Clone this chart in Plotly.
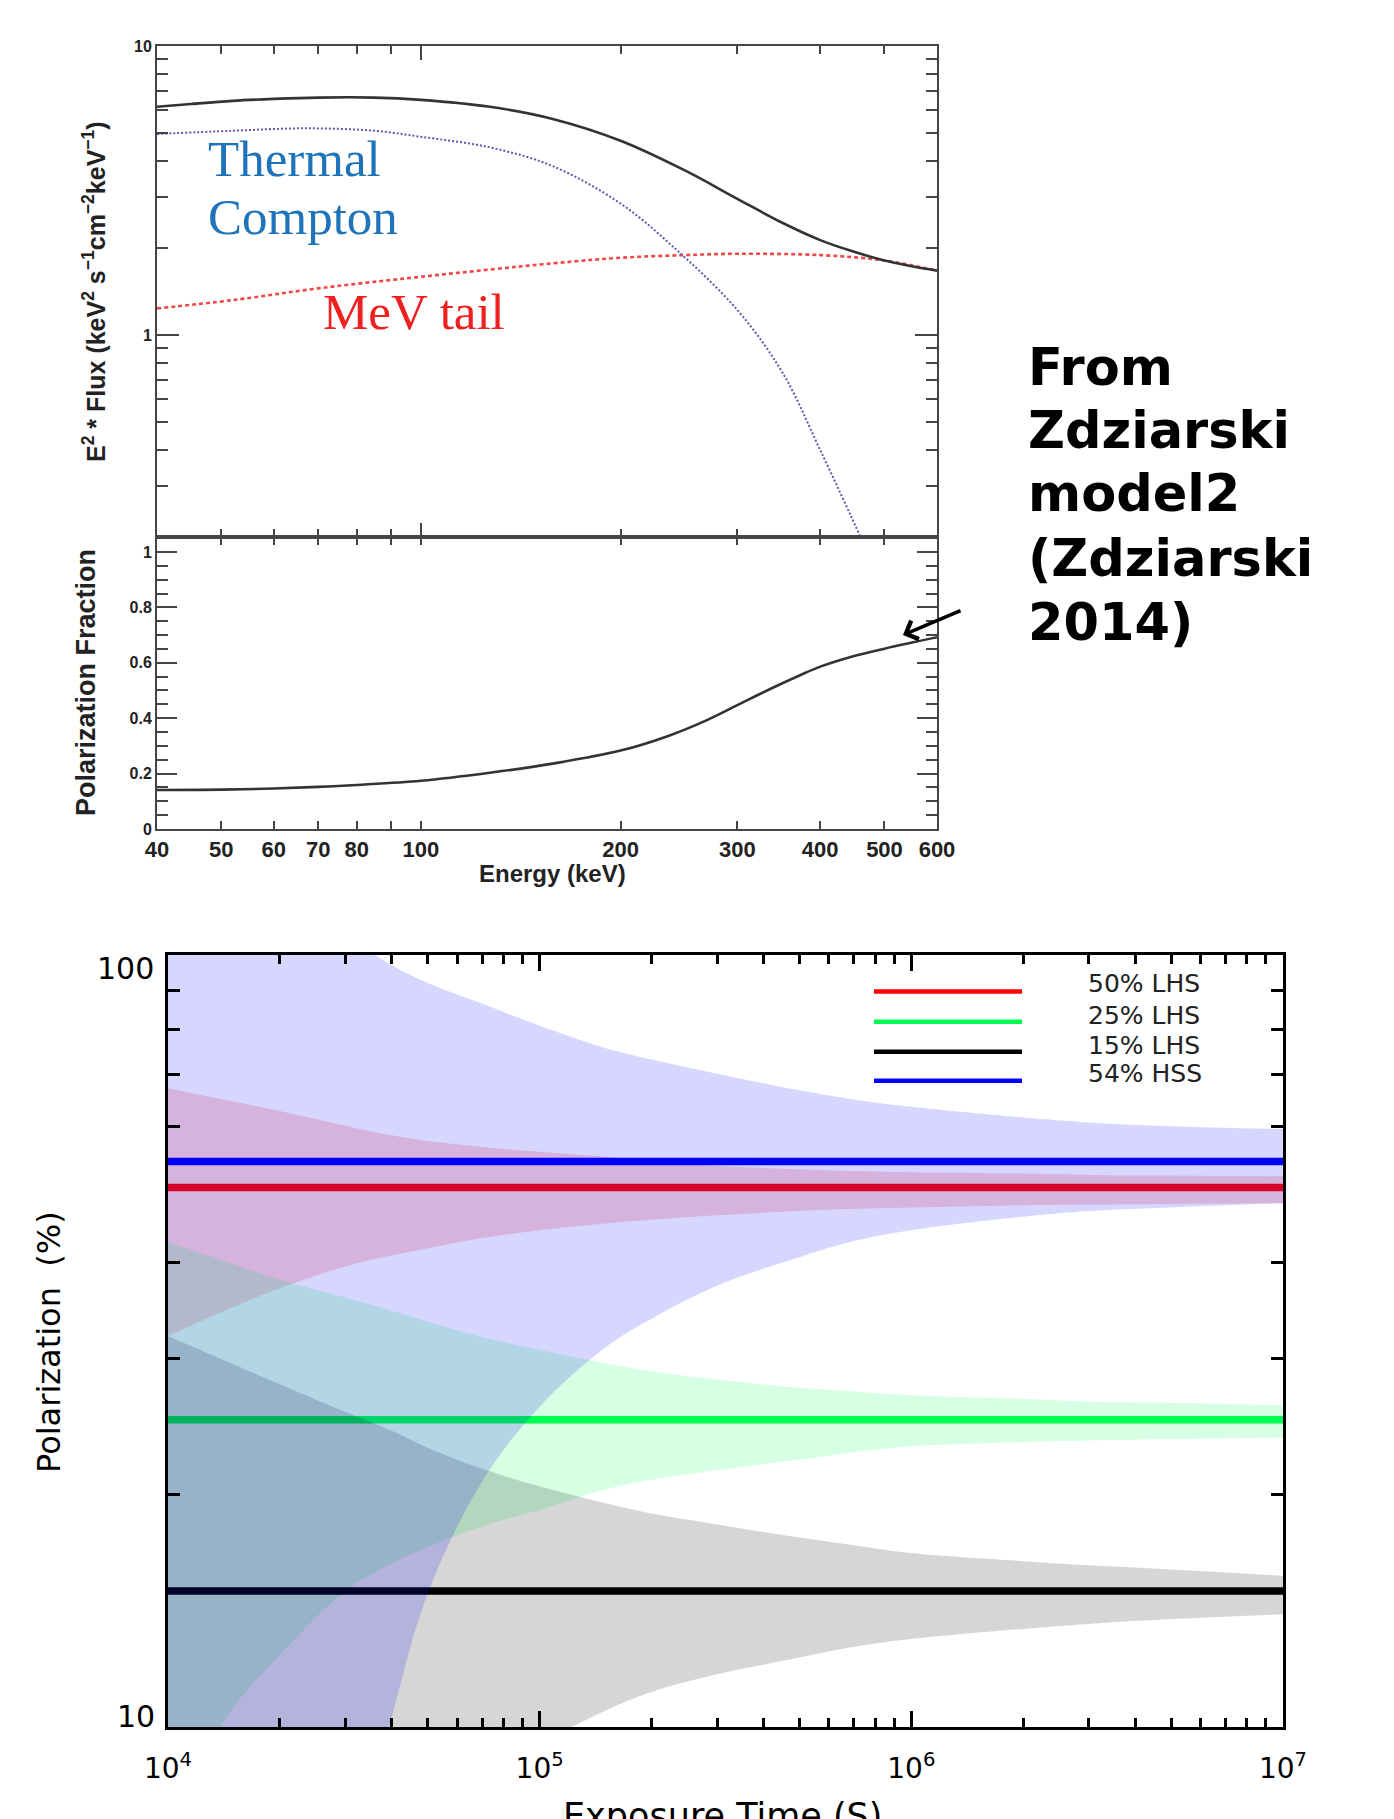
import plotly.graph_objects as go

W, H = 1394, 1819

# ---------------- data: spectrum panel ----------------
E_total = [40, 45, 52, 60, 70, 85, 100, 127, 158, 200, 250, 300, 350, 400, 450, 500, 550, 600]
F_total = [6.16, 6.30, 6.46, 6.56, 6.63, 6.63, 6.51, 6.16, 5.59, 4.70, 3.71, 2.96, 2.45, 2.13,
           1.94, 1.81, 1.73, 1.67]

E_thermal = [40, 52, 67, 85, 100, 127, 158, 200, 240, 300, 351, 400, 460, 480]
F_thermal = [4.96, 5.09, 5.19, 5.09, 4.85, 4.46, 3.84, 2.85, 2.02, 1.22, 0.74, 0.40, 0.20, 0.16]

E_mev = [40, 52, 70, 100, 158, 200, 250, 300, 400, 500, 600]
F_mev = [1.236, 1.32, 1.45, 1.59, 1.77, 1.85, 1.89, 1.91, 1.89, 1.81, 1.67]

E_pol = [40, 50, 60, 70, 80, 100, 127, 158, 200, 236, 271, 300, 338, 373, 400, 446, 500, 600]
PF = [0.141, 0.142, 0.146, 0.152, 0.159, 0.174, 0.203, 0.236, 0.283, 0.336, 0.395,
      0.447, 0.508, 0.555, 0.586, 0.622, 0.651, 0.692]

energy_ticks = [40, 50, 60, 70, 80, 100, 200, 300, 400, 500, 600]
energy_labels = [str(v) for v in energy_ticks]
energy_minor = [50, 60, 70, 80, 90, 200, 300, 400, 500]
flux_ticks = [1, 10]
flux_minor = [0.3, 0.4, 0.5, 0.6, 0.7, 0.8, 0.9, 2, 3, 4, 5, 6, 7, 8, 9]
pf_ticks = [0, 0.2, 0.4, 0.6, 0.8, 1.0]
pf_labels = ["0", "0.2", "0.4", "0.6", "0.8", "1"]

# ---------------- data: exposure panel ----------------
T_grid = [1e4, 1.5e4, 2e4, 3e4, 4e4, 5e4, 7e4, 1e5, 1.5e5, 2e5, 3e5, 5e5, 7e5,
          1e6, 2e6, 3e6, 5e6, 1e7]
red_up = [67.2, 64.6, 62.8, 60.1, 58.4, 57.4, 56.4, 55.6, 54.8, 54.1, 53.3, 52.8, 52.5,
          52.3, 52.1, 51.9, 51.8, 51.7]
red_lo = [32.1, 35.0, 37.0, 39.5, 40.8, 41.7, 43.0, 44.0, 44.9, 45.4, 46.0, 46.6, 46.9,
          47.1, 47.4, 47.5, 47.6, 47.7]
green_up = [42.5, 39.8, 38.0, 36.0, 34.6, 33.5, 32.0, 30.8, 29.6, 28.9, 28.2, 27.5, 27.2,
            26.9, 26.6, 26.4, 26.3, 26.1]
green_lo = [7.6, 10.6, 12.4, 15.0, 16.3, 17.1, 18.2, 19.1, 20.3, 20.9, 21.5, 22.2, 22.7,
            23.1, 23.4, 23.5, 23.6, 23.7]
gray_up = [32.1, 29.5, 27.8, 25.6, 24.2, 23.0, 21.6, 20.5, 19.5, 18.9, 18.3, 17.6, 17.2,
           16.8, 16.4, 16.2, 16.0, 15.7]
gray_lo = [1.0, 1.5, 2.0, 4.4, 5.8, 7.0, 8.6, 9.5, 10.5, 11.1, 11.7, 12.3, 12.7,
           13.0, 13.4, 13.6, 13.8, 14.0]
blue_up = [160, 135, 121, 106, 97, 92, 86.5, 81.0, 75.8, 73.2, 70.2, 66.8, 65.0,
           63.6, 61.6, 60.7, 60.0, 59.5]
blue_lo = [0.6, 1.2, 2.5, 6.0, 10.3, 14.9, 20.8, 26.0, 31.0, 33.8, 37.3, 40.6, 42.6,
           44.0, 45.8, 46.6, 47.1, 47.7]

T_span = [1e4, 1e7]
levels = {"50% LHS": 50, "25% LHS": 25, "15% LHS": 15, "54% HSS": 54}
time_ticks = [1e4, 1e5, 1e6, 1e7]
time_labels = ["10<sup>4</sup>", "10<sup>5</sup>", "10<sup>6</sup>", "10<sup>7</sup>"]
time_minor = [m * 10 ** d for d in (4, 5, 6) for m in range(2, 10)]
pol_minor = [20, 30, 40, 60, 70, 80, 90]


def PX(x):
    return x / W


def PY(y):
    return 1 - y / H


fig = go.Figure()

# ---- spectrum ----
fig.add_trace(go.Scatter(x=E_mev, y=F_mev, mode="lines", line_shape="spline",
                         line=dict(color="#ee4848", width=2.6, dash="4px,3px"),
                         xaxis="x", yaxis="y"))
fig.add_trace(go.Scatter(x=E_thermal, y=F_thermal, mode="lines", line_shape="spline",
                         line=dict(color="#5a5aae", width=2, dash="2px,2px"),
                         xaxis="x", yaxis="y"))
fig.add_trace(go.Scatter(x=E_total, y=F_total, mode="lines", line_shape="spline",
                         line=dict(color="#333333", width=2.6),
                         xaxis="x", yaxis="y"))
# ---- polarization fraction ----
fig.add_trace(go.Scatter(x=E_pol, y=PF, mode="lines", line_shape="spline",
                         line=dict(color="#333333", width=2.6),
                         xaxis="x2", yaxis="y2"))


# ---- exposure bands ----
def band(lo, up, fillcolor):
    fig.add_trace(go.Scatter(x=T_grid, y=lo, mode="lines", line_shape="spline",
                             line=dict(width=0), hoverinfo="skip",
                             xaxis="x3", yaxis="y3"))
    fig.add_trace(go.Scatter(x=T_grid, y=up, mode="lines", line_shape="spline",
                             line=dict(width=0), fill="tonexty", fillcolor=fillcolor,
                             hoverinfo="skip", xaxis="x3", yaxis="y3"))


def level_line(value, color):
    fig.add_trace(go.Scatter(x=T_span, y=[value, value], mode="lines",
                             line=dict(color=color, width=7.5),
                             xaxis="x3", yaxis="y3"))


band(red_lo, red_up, "rgba(255,0,0,0.16)")
level_line(levels["50% LHS"], "#ff0000")
band(green_lo, green_up, "rgba(0,255,80,0.16)")
level_line(levels["25% LHS"], "#00ff50")
band(gray_lo, gray_up, "rgba(0,0,0,0.16)")
level_line(levels["15% LHS"], "#000000")
band(blue_lo, blue_up, "rgba(0,0,255,0.16)")
level_line(levels["54% HSS"], "#0000ff")

axc = "#444444"
bold_font = dict(family="Liberation Sans, Arial, sans-serif", size=16, color="#222222",
                 weight="bold")

common_top = dict(showline=True, linecolor=axc, linewidth=2, mirror="ticks",
                  ticks="inside", tickcolor=axc, tickwidth=2, showgrid=False,
                  zeroline=False)

fig.update_layout(
    width=W, height=H, margin=dict(l=0, r=0, t=0, b=0, pad=0, autoexpand=False),
    paper_bgcolor="white", plot_bgcolor="white", showlegend=False,
    xaxis=dict(common_top, type="log", range=[1.60206, 2.778151],
               domain=[PX(157), PX(937)], anchor="y",
               tickvals=[100], ticklen=14, showticklabels=False,
               minor=dict(tickvals=energy_minor, ticks="inside", ticklen=8,
                          tickwidth=2, tickcolor=axc)),
    yaxis=dict(common_top, type="log", range=[-0.69897, 1.0],
               domain=[PY(537), PY(46)], anchor="x",
               tickvals=flux_ticks, ticktext=["1", "10"], ticklen=22,
               tickfont=bold_font,
               minor=dict(tickvals=flux_minor, ticks="inside", ticklen=11,
                          tickwidth=2, tickcolor=axc)),
    xaxis2=dict(common_top, type="log", range=[1.60206, 2.778151],
                domain=[PX(157), PX(937)], anchor="y2",
                tickvals=energy_ticks, ticktext=energy_labels, ticklen=8,
                tickfont=dict(bold_font, size=22), ticklabelstandoff=0,
                minor=dict(tickvals=[90], ticks="inside", ticklen=8,
                           tickwidth=2, tickcolor=axc)),
    yaxis2=dict(common_top, range=[0, 1.054],
                domain=[PY(829), PY(537)], anchor="x2",
                tickvals=pf_ticks, ticktext=pf_labels, ticklen=20,
                tickfont=bold_font,
                minor=dict(dtick=0.05, tick0=0, ticks="inside", ticklen=11,
                           tickwidth=2, tickcolor=axc)),
    xaxis3=dict(type="log", range=[4, 7], domain=[PX(168), PX(1283)], anchor="y3",
                showline=True, linecolor="black", linewidth=3, mirror="ticks",
                ticks="inside", tickcolor="black", tickwidth=2.5, ticklen=16,
                tickvals=time_ticks, ticktext=time_labels,
                tickfont=dict(family="DejaVu Sans, sans-serif", size=28, color="black"),
                ticklabelstandoff=14, showgrid=False, zeroline=False,
                minor=dict(tickvals=time_minor, ticks="inside", ticklen=9,
                           tickwidth=2.5, tickcolor="black")),
    yaxis3=dict(type="log", range=[1, 2], domain=[PY(1727), PY(955)], anchor="x3",
                showline=True, linecolor="black", linewidth=3, mirror="ticks",
                ticks="inside", tickcolor="black", tickwidth=3, ticklen=16,
                tickvals=[10, 100], showticklabels=False, showgrid=False,
                zeroline=False,
                minor=dict(tickvals=pol_minor, ticks="inside", ticklen=12,
                           tickwidth=3, tickcolor="black")),
)

serif = "Liberation Serif, Times New Roman, serif"
ann = []
# spectrum labels
ann.append(dict(text="Thermal", x=PX(206), y=PY(159), xanchor="left", yanchor="middle",
                font=dict(family=serif, size=51, color="#1f73b9")))
ann.append(dict(text="Compton", x=PX(206), y=PY(217), xanchor="left", yanchor="middle",
                font=dict(family=serif, size=51, color="#1f73b9")))
ann.append(dict(text="MeV tail", x=PX(321), y=PY(312), xanchor="left", yanchor="middle",
                font=dict(family=serif, size=51, color="#ee2020")))
ann.append(dict(text="E<sup>2</sup> * Flux (keV<sup>2</sup> s<sup>−1</sup>cm<sup>−2</sup>keV<sup>−1</sup>)",
                x=PX(94), y=PY(292), textangle=-90, xanchor="center", yanchor="middle",
                font=dict(bold_font, size=25)))
ann.append(dict(text="Polarization Fraction", x=PX(86), y=PY(683), textangle=-90,
                xanchor="center", yanchor="middle", font=dict(bold_font, size=27)))
ann.append(dict(text="Energy (keV)", x=PX(552), y=PY(873), xanchor="center",
                yanchor="middle", font=dict(bold_font, size=24)))
for line_text, ymid in [("From", 368), ("Zdziarski", 430), ("model2", 494),
                        ("(Zdziarski", 558), ("2014)", 622)]:
    ann.append(dict(text=line_text, x=PX(1026), y=PY(ymid), xanchor="left",
                    yanchor="middle",
                    font=dict(family="DejaVu Sans, sans-serif", size=51, color="black",
                              weight="bold")))
ann.append(dict(text="", x=PX(903), y=PY(635), ax=59, ay=-25, showarrow=True,
                arrowhead=4, arrowsize=1.1, arrowwidth=3.5, arrowcolor="black",
                standoff=0))
# exposure panel labels
ann.append(dict(text="100", x=PX(156), y=PY(969), xanchor="right", yanchor="middle",
                font=dict(family="DejaVu Sans, sans-serif", size=30, color="black")))
ann.append(dict(text="10", x=PX(157), y=PY(1716), xanchor="right", yanchor="middle",
                font=dict(family="DejaVu Sans, sans-serif", size=30, color="black")))
ann.append(dict(text="Polarization\u00a0 (%)", x=PX(49), y=PY(1342), textangle=-90,
                xanchor="center", yanchor="middle",
                font=dict(family="DejaVu Sans, sans-serif", size=32, color="black")))
ann.append(dict(text="Exposure Time (S)", x=PX(722), y=PY(1794), xanchor="center",
                yanchor="top",
                font=dict(family="DejaVu Sans, sans-serif", size=35, color="black")))

# legend of the exposure panel
legend_items = [("50% LHS", "#ff0000", 991.5, 983),
                ("25% LHS", "#00ff50", 1021.7, 1015),
                ("15% LHS", "#000000", 1051.8, 1045),
                ("54% HSS", "#0000ff", 1080.8, 1073)]
shapes = []
for name, col, yl, yt in legend_items:
    shapes.append(dict(type="line", xref="paper", yref="paper", x0=PX(874), x1=PX(1022),
                       y0=PY(yl), y1=PY(yl), line=dict(color=col, width=4.5)))
    ann.append(dict(text=name, x=PX(1086), y=PY(yt), xanchor="left", yanchor="middle",
                    font=dict(family="DejaVu Sans, sans-serif", size=25, color="#222222")))

for a in ann:
    a.setdefault("showarrow", False)
    a["xref"] = "paper"
    a["yref"] = "paper"
fig.update_layout(annotations=ann, shapes=shapes)

fig.write_html("out.html")
